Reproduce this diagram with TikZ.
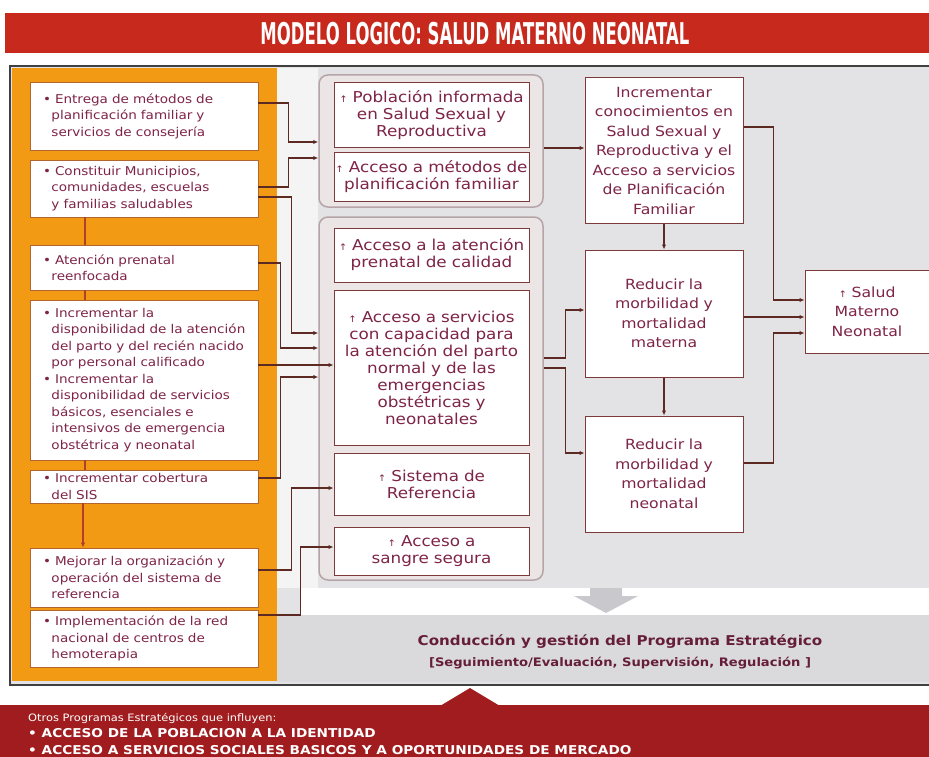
\documentclass[tikz,border=0pt]{standalone}
\usepackage{fontspec}
\setmainfont{DejaVu Sans}[FakeStretch=1.12]
\newfontfamily\titlefont{DejaVu Sans}[FakeStretch=0.55]
\usepackage{xcolor}
\usetikzlibrary{arrows.meta,positioning}
\definecolor{rojotit}{HTML}{C8291D}
\definecolor{rojoosc}{HTML}{A01C1F}
\definecolor{naranja}{HTML}{F39A14}
\definecolor{fondo}{HTML}{E3E3E5}
\definecolor{banda}{HTML}{DADADD}
\definecolor{marco}{HTML}{B5A5A8}
\definecolor{marcofill}{HTML}{EBE5E6}
\definecolor{borde}{HTML}{7C3A3A}
\definecolor{bordenar}{HTML}{B3652E}
\definecolor{texto}{HTML}{7E2447}
\definecolor{linea}{HTML}{5C2A22}
\definecolor{lineanar}{HTML}{B0402A}
\definecolor{flechagris}{HTML}{C9C9CD}
\newcommand\fizq{\fontsize{12.1}{16.5}\selectfont}
\newcommand\fcen{\fontsize{15}{17}\selectfont}
\newcommand\fder{\fontsize{14}{19.5}\selectfont}
\newcommand\bul{\hspace*{5pt}\textbullet\ }
\newcommand\sig{\\\hspace*{5pt}\hspace*{0.7em}}
\newcommand\flecha{{\fontsize{9}{9}\selectfont ↑}\ }
\tikzset{accion/.style={draw=bordenar, fill=white, line width=.8pt, minimum width=228pt, text width=212pt, inner xsep=8pt, inner ysep=0pt, align=left, text=texto, font=\fizq}, prod/.style={draw=borde, fill=white, line width=1pt, minimum width=195pt, text width=193pt, inner xsep=1pt, inner ysep=0pt, align=center, text=texto, font=\fcen}, grupo/.style={draw=marco, fill=marcofill, line width=1.5pt, rounded corners=9pt, minimum width=224pt}, res/.style={draw=borde, fill=white, line width=1pt, minimum width=158pt, text width=156pt, inner xsep=1pt, inner ysep=0pt, align=center, text=texto, font=\fder}, conn/.style={-{Latex[length=5pt,width=4.5pt]}, line width=1.3pt, draw=linea}, enlace/.style={line width=1.3pt, draw=lineanar}}
\begin{document}
\begin{tikzpicture}[x=1pt,y=-1pt]
\useasboundingbox (0,0) rectangle (929,757);
% fondos
\fill[white] (0,0) rectangle (929,757);
\fill[rojotit] (5,13) rectangle (929,53);
\fill[fondo] (10,66) rectangle (929,684);
\fill[white!60!fondo] (277,68) rectangle (318,588);
\fill[white] (300,588) rectangle (929,615);
\fill[banda] (277,615) rectangle (929,682);
\fill[naranja] (12,68) rectangle (277,681);
\draw[line width=2pt, black!75] (929,66) -- (10,66) -- (10,685) -- (929,685);
\fill[rojoosc] (0,705) rectangle (929,757);
\fill[rojoosc] (440,706) -- (470,688) -- (500,706) -- cycle;
\fill[flechagris] (590,588) -- (622,588) -- (622,596) -- (638,596) -- (606,613) -- (574,596) -- (590,596) -- cycle;
\node[text=white, font=\titlefont\bfseries\fontsize{30}{30}\selectfont] (titulo) at (475,34) {MODELO LOGICO: SALUD MATERNO NEONATAL};

% acciones
\node[accion, minimum height=68pt] (b1) at (144,116) {\bul Entrega de métodos de\sig planificación familiar y\sig servicios de consejería};
\node[accion, minimum height=57pt] (b2) at (144,188.5) {\bul Constituir Municipios,\sig comunidades, escuelas\sig y familias saludables};
\node[accion, minimum height=45pt] (b3) at (144,267.5) {\bul Atención prenatal\sig reenfocada};
\node[accion, minimum height=160pt] (b4) at (144,380) {\bul Incrementar la\sig disponibilidad de la atención\sig del parto y del recién nacido\sig por personal  calificado\\\bul Incrementar la\sig disponibilidad de servicios\sig básicos, esenciales e\sig intensivos  de emergencia\sig obstétrica y  neonatal};
\node[accion, minimum height=33pt] (b5) at (144,486.5) {\bul Incrementar cobertura\sig del SIS};
\node[accion, minimum height=59pt] (b6) at (144,577.5) {\bul Mejorar la organización y\sig operación del sistema de\sig referencia};
\node[accion, minimum height=57pt] (b7) at (144,638.5) {\bul Implementación de la  red\sig nacional de centros de\sig hemoterapia};
\draw[enlace] ([xshift=-59pt]b2.south) -- ([xshift=-59pt]b3.north);
\draw[enlace] ([xshift=-59pt]b3.south) -- ([xshift=-59pt]b4.north);
\draw[enlace] ([xshift=-59pt]b4.south) -- ([xshift=-59pt]b5.north);
\draw[enlace, -{Latex[length=5pt,width=4.5pt]}] ([xshift=-61pt]b5.south) -- ([xshift=-61pt]b6.north);

% productos
\node[grupo, minimum height=132pt] (g1) at (431,141) {};
\node[prod, minimum height=65pt] (p1) at (431.5,115.5) {\flecha Población informada\\en Salud Sexual y\\Reproductiva};
\node[prod, minimum height=48pt] (p2) at (431.5,177) {\flecha Acceso a métodos de\\planificación familiar};
\node[grupo, minimum height=363pt] (g2) at (431,398.5) {};
\node[prod, minimum height=54pt] (p3) at (431.5,255) {\flecha Acceso a la atención\\prenatal de calidad};
\node[prod, minimum height=155pt] (p4) at (431.5,367.5) {\flecha Acceso a servicios\\con capacidad para\\la atención del parto\\normal y de las\\emergencias\\obstétricas y\\neonatales};
\node[prod, minimum height=62pt] (p5) at (431.5,484) {\flecha Sistema de\\Referencia};
\node[prod, minimum height=48pt] (p6) at (431.5,551) {\flecha Acceso a\\sangre segura};

% resultados
\node[res, minimum height=145pt] (r1) at (664,150.5) {Incrementar\\conocimientos en\\Salud Sexual y\\Reproductiva y el\\Acceso a servicios\\de Planificación\\Familiar};
\node[res, minimum height=127pt] (r2) at (664,313.5) {Reducir la\\morbilidad y\\mortalidad\\materna};
\node[res, minimum height=116pt] (r3) at (664,474) {Reducir la\\morbilidad y\\mortalidad\\neonatal};
\node[res, minimum width=124pt, text width=122pt, minimum height=83pt] (r4) at (867,311.5) {\flecha Salud\\Materno\\Neonatal};

% conexiones
\draw[conn] ([yshift=13pt]b1.east) -- ++(30,0) |- ([yshift=-1pt]g1.west);
\draw[conn] ([yshift=1.5pt]b2.east) -- ++(30,0) |- ([yshift=-17pt]g1.west);
\draw[conn] ([yshift=-8.5pt]b2.east) -- ++(33,0) |- ([yshift=65.5pt]g2.west);
\draw[conn] ([yshift=4.5pt]b3.east) -- ++(22,0) |- ([yshift=50.5pt]g2.west);
\draw[conn] ([yshift=15pt]b4.east) -- ([yshift=2.5pt]p4.west);
\draw[conn] ([yshift=8.5pt]b5.east) -- ++(22,0) |- ([yshift=21.5pt]g2.west);
\draw[conn] ([yshift=7.5pt]b6.east) -- ++(33,0) |- ([yshift=-4pt]p5.west);
\draw[conn] ([yshift=23.5pt]b7.east) -- ++(42,0) |- ([yshift=4pt]p6.west);
\draw[conn] ([yshift=-7pt]g1.east) -- ([yshift=2.5pt]r1.west);
\draw[conn] ([yshift=40.5pt]g2.east) -- ++(22,0) |- ([yshift=3.5pt]r2.west);
\draw[conn] ([yshift=30.5pt]g2.east) -- ++(22,0) |- ([yshift=21pt]r3.west);
\draw[conn] (r1.south) -- (r2.north);
\draw[conn] (r2.south) -- (r3.north);
\draw[conn] ([yshift=23.5pt]r1.east) -- ++(30,0) |- ([yshift=11.5pt]r4.west);
\draw[conn] ([yshift=-3.5pt]r2.east) -- ([yshift=-5.5pt]r4.west);
\draw[conn] ([yshift=11pt]r3.east) -- ++(30,0) |- ([yshift=-21.5pt]r4.west);

% conduccion y otros programas
\node[text=texto!80!black, font=\bfseries\fontsize{13.5}{15}\selectfont] (cond) at (620,642) {Conducción y gestión del Programa Estratégico};
\node[text=texto!80!black, font=\bfseries\fontsize{11.7}{13}\selectfont, below=1pt of cond.south, anchor=north] (seg) {[Seguimiento/Evaluación, Supervisión, Regulación ]};
\node[anchor=north west, align=left, text=white, inner sep=0pt, font=\fontsize{10.2}{16.5}\selectfont] (otros) at (28,713) {Otros Programas Estratégicos que influyen:\\{\bfseries\fontsize{12.2}{16.5}\selectfont • ACCESO DE LA POBLACION A LA IDENTIDAD}\\{\bfseries\fontsize{12.2}{16.5}\selectfont • ACCESO A SERVICIOS SOCIALES BASICOS Y A OPORTUNIDADES DE MERCADO}};
\end{tikzpicture}
\end{document}
